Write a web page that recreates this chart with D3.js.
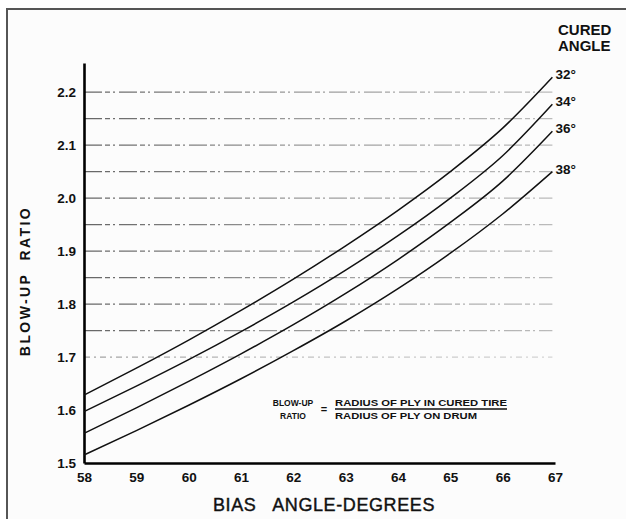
<!DOCTYPE html>
<html>
<head>
<meta charset="utf-8">
<script src="https://cdn.jsdelivr.net/npm/d3@7"></script>
<style>
  body { margin: 0; background: #fff; }
  svg { display: block; }
  text { fill: #111; }
</style>
</head>
<body>
<div id="chart"></div>
<script>
// bias angle (x) and blow-up ratio for each cured angle
const biasAngles = [58, 59, 60, 61, 62, 63, 64, 65, 66, 66.95];
const ratio32 = [1.628, 1.679, 1.732, 1.788, 1.847, 1.910, 1.977, 2.050, 2.132, 2.228];
const ratio34 = [1.597, 1.645, 1.695, 1.748, 1.804, 1.864, 1.929, 2.000, 2.080, 2.177];
const ratio36 = [1.556, 1.604, 1.654, 1.706, 1.761, 1.820, 1.884, 1.954, 2.032, 2.126];
const ratio38 = [1.515, 1.561, 1.609, 1.659, 1.712, 1.768, 1.829, 1.896, 1.970, 2.050];
const curedLabels = ["32°", "34°", "36°", "38°"];

const xTicks = [58, 59, 60, 61, 62, 63, 64, 65, 66, 67];
const yTicks = [1.5, 1.6, 1.7, 1.8, 1.9, 2.0, 2.1, 2.2];
const gridValues = [1.7, 1.75, 1.8, 1.85, 1.9, 1.95, 2.0, 2.05, 2.1, 2.15, 2.2];

const width = 626, height = 519;

const svg = d3.select("#chart")
  .append("svg")
    .attr("width", width)
    .attr("height", height);

// page frame (scanned sheet edge)
svg.append("rect")
  .attr("x", 7).attr("y", 9)
  .attr("width", 700).attr("height", 600)
  .style("fill", "#fcfcfc")
  .style("stroke", "#555")
  .style("stroke-width", 2);

const x = d3.scaleLinear().domain([58, 67]).range([84, 555]);
const y = d3.scaleLinear().domain([1.5, 2.255]).range([463, 63]);

// faint gridlines, fading out to the right like the scan
const grad = svg.append("defs").append("linearGradient")
  .attr("id", "fade")
  .attr("gradientUnits", "userSpaceOnUse")
  .attr("x1", x(58)).attr("x2", x(66.95))
  .attr("y1", 0).attr("y2", 0);
grad.append("stop").attr("offset", "0%").attr("stop-color", "#666");
grad.append("stop").attr("offset", "45%").attr("stop-color", "#999");
grad.append("stop").attr("offset", "100%").attr("stop-color", "#bbb");

svg.append("g")
  .selectAll("line")
  .data(gridValues)
  .enter()
  .append("line")
    .attr("x1", x(58))
    .attr("x2", x(66.95))
    .attr("y1", d => y(d))
    .attr("y2", d => y(d))
    .style("stroke", "url(#fade)")
    .style("stroke-width", 1.2)
    .style("opacity", d => (d < 1.72 ? 0.6 : 1))
    .style("stroke-dasharray", d => (d < 1.72 ? "6,4,2,4" : "18,3,5,3,2,4"));

// axes
const yAxis = svg.append("g")
  .attr("transform", `translate(${x(58)},0)`)
  .call(d3.axisLeft(y).tickValues(yTicks).tickSize(0).tickPadding(8).tickFormat(d3.format(".1f")));

const xAxis = svg.append("g")
  .attr("transform", `translate(0,${y(1.5)})`)
  .call(d3.axisBottom(x).tickValues(xTicks).tickSize(0).tickPadding(9).tickFormat(d3.format("d")));

[yAxis, xAxis].forEach(g => {
  g.select(".domain").style("stroke", "#000").style("stroke-width", 2.6);
  g.selectAll("text")
    .style("font-family", "'Liberation Sans', Arial, sans-serif")
    .style("font-weight", "bold")
    .style("font-size", "13.5px")
    .style("fill", "#111");
});

// curves
const series = [ratio32, ratio34, ratio36, ratio38];
const line = d3.line()
  .x((d, i) => x(biasAngles[i]))
  .y(d => y(d))
  .curve(d3.curveMonotoneX);

svg.append("g")
  .selectAll("path")
  .data(series)
  .enter()
  .append("path")
    .attr("d", d => line(d))
    .style("fill", "none")
    .style("stroke", "#111")
    .style("stroke-width", 1.5);

const narrow = "'Liberation Sans Narrow', 'Liberation Sans', sans-serif";

// curve labels
svg.append("g")
  .selectAll("text")
  .data(series)
  .enter()
  .append("text")
    .attr("x", x(biasAngles[biasAngles.length - 1]) + 3)
    .attr("y", d => y(d[d.length - 1]) + 2)
    .text((d, i) => curedLabels[i])
    .style("font-family", narrow)
    .style("font-weight", "bold")
    .style("font-size", "13.5px");

// legend heading
svg.append("text")
  .attr("x", 558).attr("y", 35)
  .text("CURED")
  .style("font-family", narrow).style("font-weight", "bold").style("font-size", "15px");
svg.append("text")
  .attr("x", 558).attr("y", 51)
  .text("ANGLE")
  .style("font-family", narrow).style("font-weight", "bold").style("font-size", "15px");

// axis titles
svg.append("text")
  .attr("transform", "translate(30,281) rotate(-90)")
  .attr("text-anchor", "middle")
  .text("BLOW-UP  RATIO")
  .style("font-family", "'Liberation Sans', sans-serif")
  .style("font-weight", "bold")
  .style("font-size", "14px")
  .style("letter-spacing", "2.4px")
  .style("white-space", "pre");

svg.append("text")
  .attr("x", 324).attr("y", 511)
  .attr("text-anchor", "middle")
  .text("BIAS   ANGLE-DEGREES")
  .style("font-family", narrow)
  .style("font-size", "18px")
  .style("letter-spacing", "0.6px")
  .style("stroke", "#111")
  .style("stroke-width", 0.4)
  .style("white-space", "pre");

// definition note
const note = svg.append("g")
  .style("font-family", "'Liberation Sans', sans-serif")
  .style("font-weight", "bold")
  .style("font-size", "8.5px");
note.append("text").attr("x", 293).attr("y", 406).attr("text-anchor", "middle").text("BLOW-UP");
note.append("text").attr("x", 293).attr("y", 419).attr("text-anchor", "middle").text("RATIO");
note.append("text").attr("x", 324).attr("y", 413).attr("text-anchor", "middle").style("font-size", "11px").text("=");
note.append("text").attr("x", 335).attr("y", 406)
  .attr("textLength", 172).attr("lengthAdjust", "spacingAndGlyphs")
  .text("RADIUS OF PLY IN CURED TIRE");
note.append("line")
  .attr("x1", 335).attr("x2", 507).attr("y1", 409).attr("y2", 409)
  .style("stroke", "#111").style("stroke-width", 1.3);
note.append("text").attr("x", 335).attr("y", 419)
  .attr("textLength", 142).attr("lengthAdjust", "spacingAndGlyphs")
  .text("RADIUS OF PLY ON DRUM");
</script>
</body>
</html>
